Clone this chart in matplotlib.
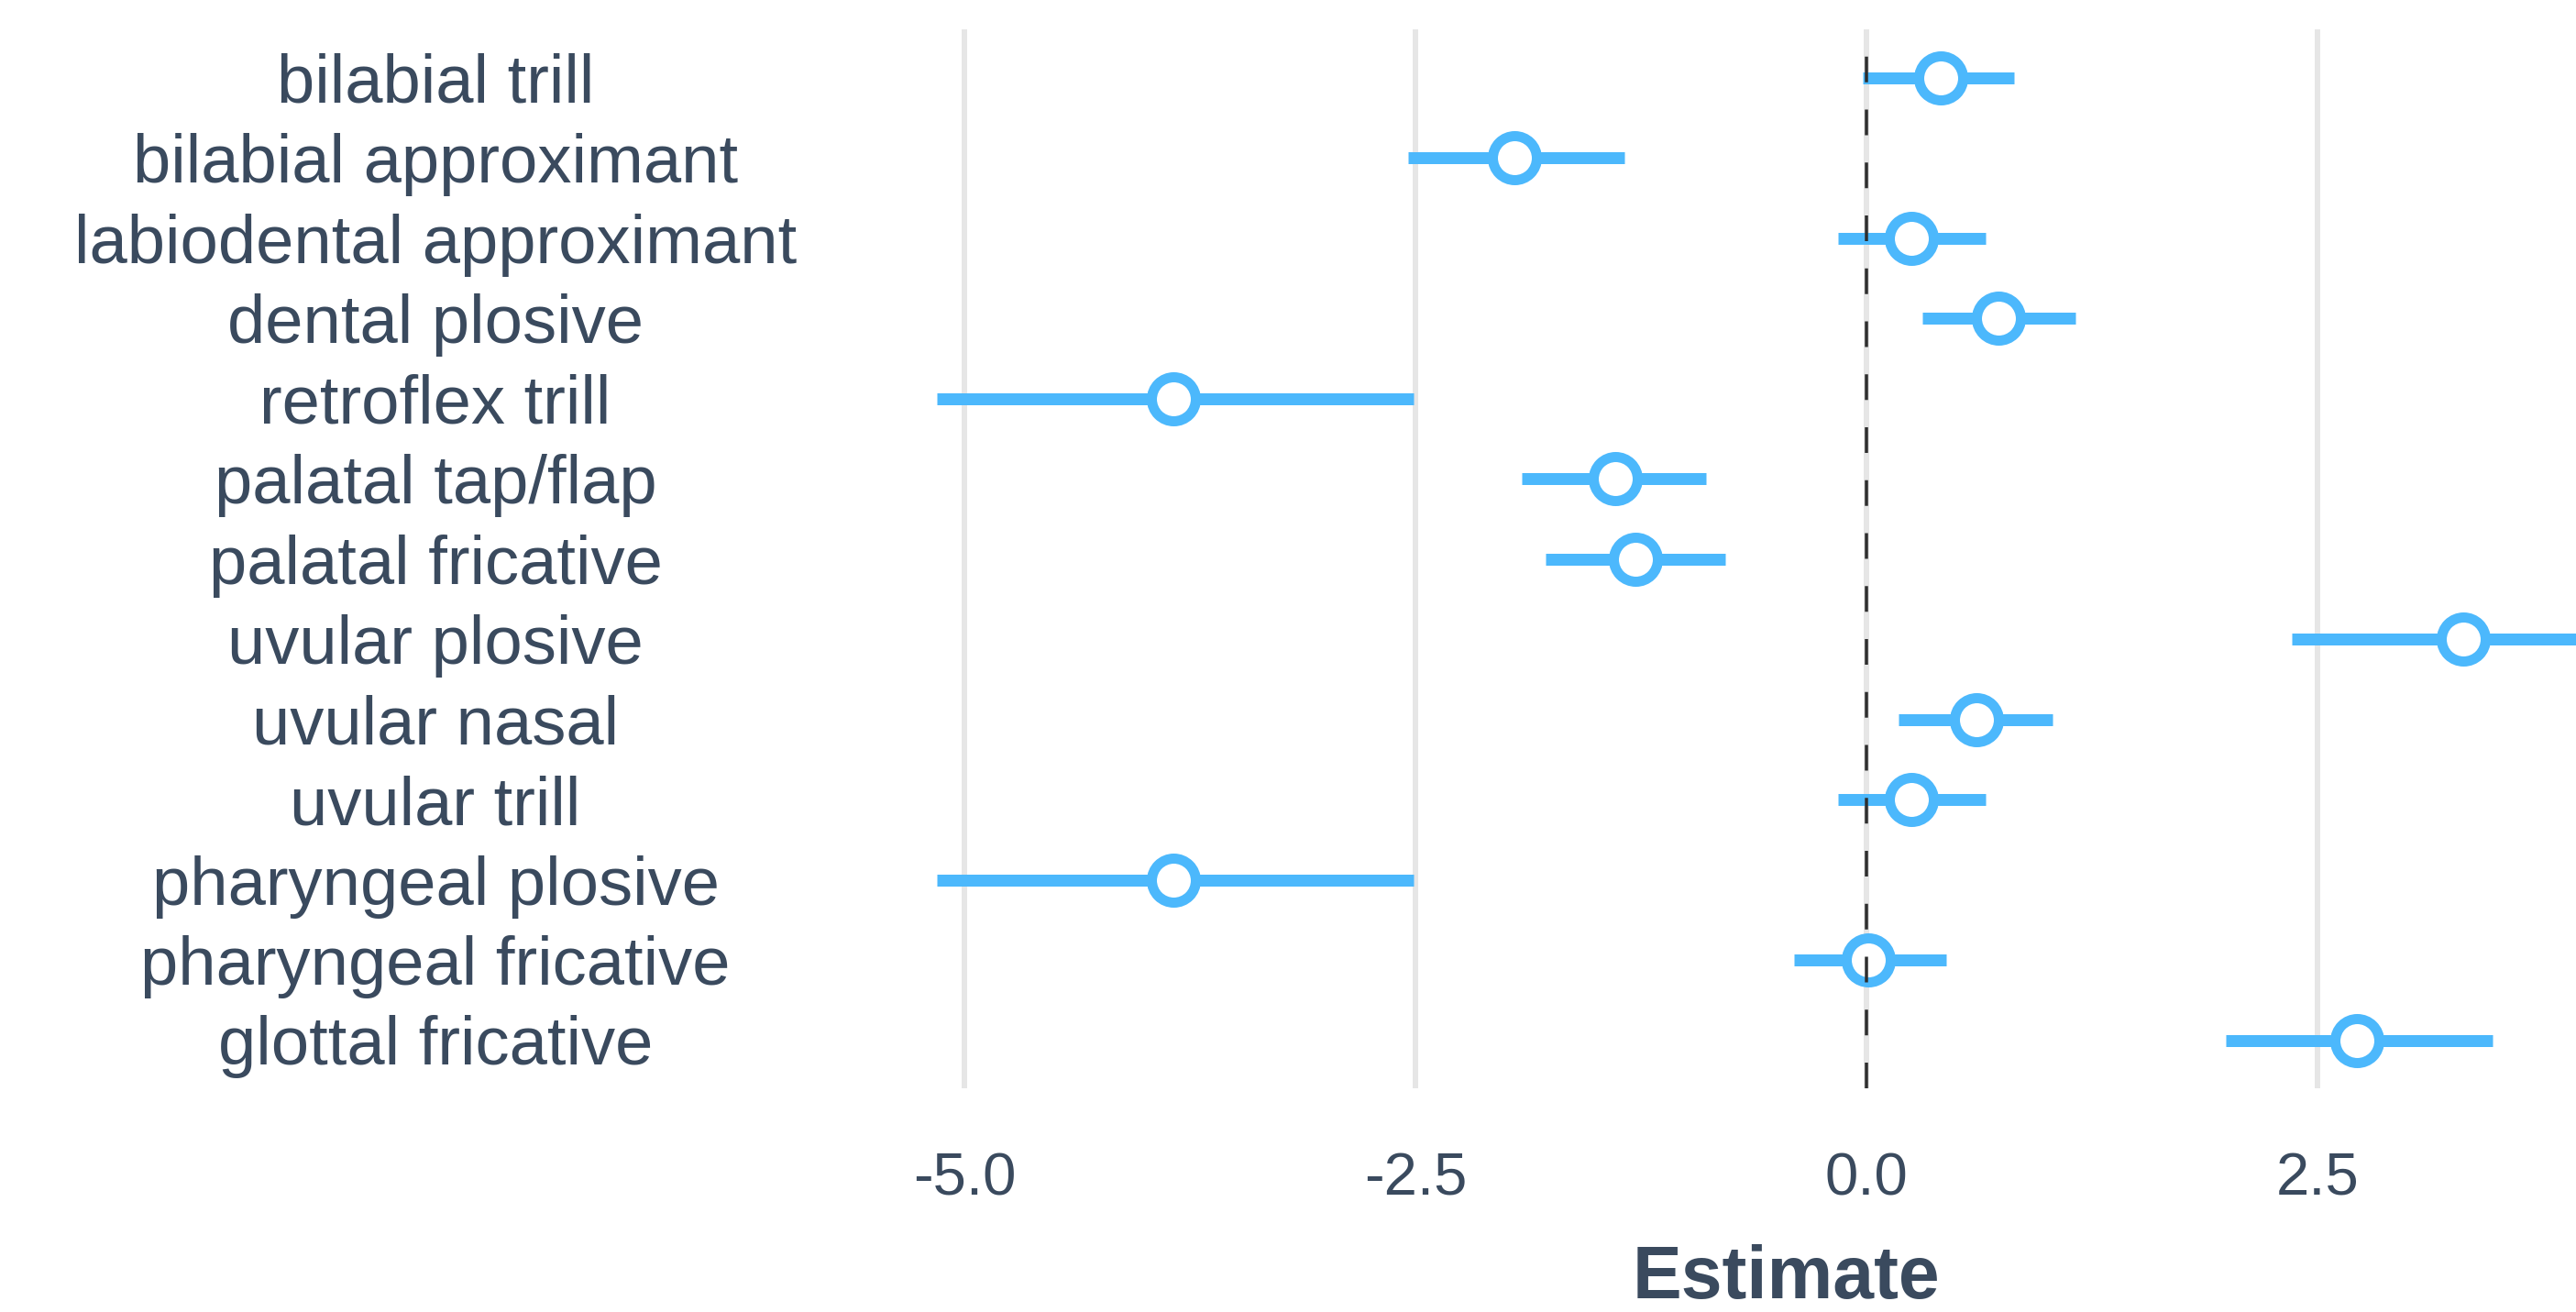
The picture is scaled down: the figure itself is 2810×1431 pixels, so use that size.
import matplotlib
matplotlib.use('Agg')
import matplotlib.pyplot as plt

# estimates with lower / upper bounds, top row first
labels = ['bilabial trill', 'bilabial approximant', 'labiodental approximant',
          'dental plosive', 'retroflex trill', 'palatal tap/flap',
          'palatal fricative', 'uvular plosive', 'uvular nasal', 'uvular trill',
          'pharyngeal plosive', 'pharyngeal fricative', 'glottal fricative']
estimates = [0.41, -1.95, 0.25, 0.73, -3.84, -1.39, -1.28, 3.31, 0.61, 0.25,
             -3.84, 0.01, 2.72]
lower = [-0.02, -2.54, -0.16, 0.31, -5.15, -1.91, -1.78, 2.36, 0.18, -0.16,
         -5.15, -0.40, 1.99]
upper = [0.82, -1.34, 0.66, 1.16, -2.51, -0.89, -0.78, 4.26, 1.03, 0.66,
         -2.51, 0.44, 3.47]
xticks = [-5.0, -2.5, 0.0, 2.5]

blue = '#4cb8fc'
text_col = '#3a4a5e'

plt.rcParams['font.family'] = ['Liberation Sans', 'DejaVu Sans']

W, H, DPI = 2810, 1431, 100
fig = plt.figure(figsize=(W / DPI, H / DPI), dpi=DPI)
left_px, right_px, top_px, bot_px = 900, 2810, 32, 1187
ax = fig.add_axes([left_px / W, 1 - bot_px / H,
                   (right_px - left_px) / W, (bot_px - top_px) / H])

ys = list(range(len(labels)))
for y, lo, hi in zip(ys, lower, upper):
    ax.plot([lo, hi], [y, y], color=blue, lw=13 * 0.72,
            solid_capstyle='butt', zorder=3)
ax.plot(estimates, ys, 'o', ms=48 * 0.72, mfc='white', mec=blue,
        mew=11 * 0.72, zorder=4, ls='none')
ax.axvline(0, color='#2e2e2e', lw=3.5 * 0.72, dashes=(8, 8.5), zorder=5)

x0 = (left_px - 2036) / 196.8
x1 = (right_px - 2036) / 196.8
ax.set_xlim(x0, x1)
ax.set_ylim(len(labels) - 1 + 0.6, -0.6)

ax.set_xticks(xticks)
ax.set_xticklabels(['%.1f' % t for t in xticks])
ax.set_yticks(ys)
ax.set_yticklabels(labels)
ax.grid(axis='x', color='#e6e6e6', lw=6 * 0.72, zorder=0)
ax.grid(axis='y', visible=False)
ax.set_axisbelow(True)
for s in ax.spines.values():
    s.set_visible(False)

ax.tick_params(axis='both', length=0, colors=text_col)
ax.tick_params(axis='x', labelsize=47, pad=(1281 - 1187 - 24) * 0.72)
ax.tick_params(axis='y', labelsize=53.5, pad=(left_px - 475) * 0.72)
for t in ax.get_yticklabels():
    t.set_ha('center')

ax.set_xlabel('Estimate', fontsize=58, fontweight='bold', color=text_col)
ax.xaxis.set_label_coords((1948 - left_px) / (right_px - left_px),
                          -(1395 - bot_px) / (bot_px - top_px), transform=ax.transAxes)
ax.xaxis.label.set_va('center')

fig.savefig('out.png', dpi=DPI)
